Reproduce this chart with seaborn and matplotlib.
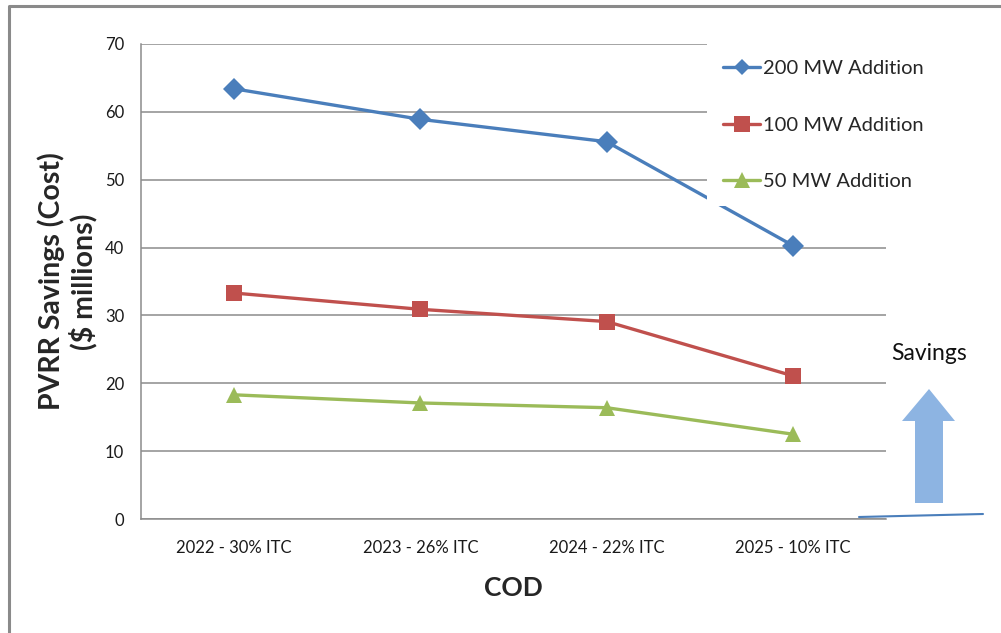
import pandas as pd
import seaborn as sns
import matplotlib.pyplot as plt
import matplotlib.patches as mpatches
import matplotlib.lines as mlines


# -----------------------------
# Data
# -----------------------------
cod_labels = ['2022 - 30% ITC', '2023 - 26% ITC', '2024 - 22% ITC', '2025 - 10% ITC']
savings_200mw = [63.4, 58.9, 55.6, 40.3]
savings_100mw = [33.3, 30.9, 29.1, 21.1]
savings_50mw = [18.3, 17.1, 16.4, 12.5]
series_names = ['200 MW Addition', '100 MW Addition', '50 MW Addition']
y_ticks = [0, 10, 20, 30, 40, 50, 60, 70]

long_df = pd.DataFrame({
    'COD': cod_labels * 3,
    'Series': [series_names[0]] * 4 + [series_names[1]] * 4 + [series_names[2]] * 4,
    'Savings': savings_200mw + savings_100mw + savings_50mw,
})

colors = ['#4A7EBB', '#C0504D', '#9BBB59']

# -----------------------------
# Style
# -----------------------------
sns.set_style('white')
plt.rcParams['font.family'] = ['Lato', 'DejaVu Sans']

fig = plt.figure(figsize=(10.01, 6.33), dpi=100)
ax = fig.add_axes([141 / 1001, 1 - 519 / 633, 745 / 1001, 475 / 633])

sns.lineplot(
    data=long_df, x='COD', y='Savings', hue='Series', style='Series',
    palette=colors, markers=['D', 's', '^'], dashes=False,
    markersize=11, linewidth=2.4, markeredgewidth=0, ax=ax, sort=False,
)

ax.set_xlim(-0.5, 3.5)
ax.set_ylim(0, 70)
ax.set_yticks(y_ticks)
ax.yaxis.grid(True, color='#8C8C8C', linewidth=1.1)
ax.set_axisbelow(True)
for side in ['top', 'right']:
    ax.spines[side].set_visible(False)
for side in ['left', 'bottom']:
    ax.spines[side].set_color('#8C8C8C')
    ax.spines[side].set_linewidth(1.1)
ax.tick_params(axis='both', length=0, labelsize=12, colors='#1a1a1a')
ax.tick_params(axis='x', pad=15)
ax.tick_params(axis='y', pad=12)

ax.set_ylabel('PVRR Savings (Cost)\n($ millions)', fontsize=20.5, fontweight='bold',
              va='center', linespacing=1.15)
ax.yaxis.set_label_coords(-0.099, 0.5)
ax.set_xlabel('COD', fontsize=19, fontweight='bold', va='center')
ax.xaxis.set_label_coords(0.5, -0.145)

# legend with white box sitting over the gridlines
handles = [mlines.Line2D([], [], color=c, marker=m, markersize=ms, linewidth=2.4, markeredgewidth=0)
           for c, m, ms in zip(colors, ['D', 's', '^'], [8, 11, 11])]
ax.legend(handles, series_names, loc='upper left',
          bbox_to_anchor=(707 / 1001, 1 - 44 / 633), bbox_transform=fig.transFigure,
          fontsize=14.5, frameon=True, facecolor='white', edgecolor='none', framealpha=1,
          fancybox=False, borderpad=0.8, labelspacing=1.95, handlelength=1.85,
          handletextpad=0.12, borderaxespad=0)

# -----------------------------
# Decorations in pixel space: outer frame, arrow, "Savings"
# -----------------------------
over = fig.add_axes([0, 0, 1, 1], zorder=5)
over.set_xlim(0, 1001)
over.set_ylim(633, 0)
over.axis('off')
over.patch.set_alpha(0)

over.plot([9, 9, 1010], [640, 6, 6], color='#8A8A8A', linewidth=2.2, solid_capstyle='butt')
over.add_patch(mpatches.Polygon(
    [(915, 503), (943, 503), (943, 421), (955, 421), (929, 389), (902, 421), (915, 421)],
    closed=True, facecolor='#8DB4E2', edgecolor='none'))
over.plot([859, 983], [517, 514], color='#4A7EBB', linewidth=1.5)
over.text(891, 353, 'Savings', fontsize=16.5, ha='left', va='center', color='#111111')

fig.savefig('out.png', dpi=100)
